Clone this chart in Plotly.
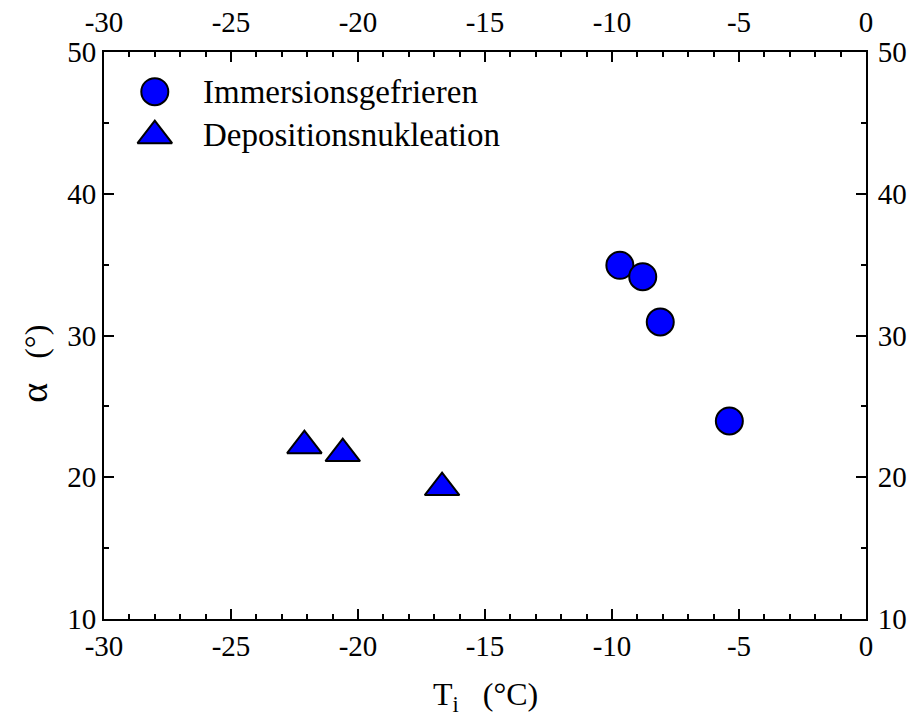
import plotly.graph_objects as go

# Contact angle alpha versus nucleation temperature T_i
temp_immersion = [-9.69, -8.79, -8.10, -5.38]
alpha_immersion = [34.95, 34.15, 30.95, 23.97]

temp_deposition = [-22.11, -20.60, -16.69]
alpha_deposition = [22.23, 21.67, 19.27]

series_names = ["Immersionsgefrieren", "Depositionsnukleation"]
x_tick_values = [-30, -25, -20, -15, -10, -5, 0]
x_tick_labels = ["-30", "-25", "-20", "-15", "-10", "-5", "0"]
y_tick_values = [10, 20, 30, 40, 50]
y_tick_labels = ["10", "20", "30", "40", "50"]
x_range = [-30, 0]
y_range = [10, 50]

FONT = "Liberation Serif"
FILL = "#0000FF"
TICK_SIZE = 29
TEXT_SIZE = 32

circle_marker = dict(symbol="circle", size=27, color=FILL,
                     line=dict(color="black", width=2))
triangle_marker = dict(symbol="triangle-up", size=30, color=FILL,
                       line=dict(color="black", width=2))

fig = go.Figure()
fig.add_trace(go.Scatter(x=temp_immersion, y=alpha_immersion, mode="markers",
                         marker=circle_marker, name=series_names[0],
                         showlegend=False))
fig.add_trace(go.Scatter(x=temp_deposition, y=alpha_deposition, mode="markers",
                         marker=triangle_marker, name=series_names[1],
                         showlegend=False))

# empty trace so the mirrored top/right axes are drawn with labels
fig.add_trace(go.Scatter(x=[None], y=[None], xaxis="x2", yaxis="y2",
                         showlegend=False, hoverinfo="skip"))

# hand-drawn legend in the upper-left corner
legend_x = -28.0
legend_text_x = -26.2
legend_rows = [47.2, 44.2]
fig.add_trace(go.Scatter(x=[legend_x], y=[legend_rows[0]], mode="markers",
                         marker=circle_marker, showlegend=False, hoverinfo="skip"))
fig.add_trace(go.Scatter(x=[legend_x], y=[legend_rows[1] - 0.1], mode="markers",
                         marker=triangle_marker, showlegend=False, hoverinfo="skip"))
for name, row in zip(series_names, legend_rows):
    fig.add_annotation(x=legend_text_x, y=row - 0.05, xref="x", yref="y",
                       text=name, showarrow=False, xanchor="left",
                       yanchor="middle",
                       font=dict(family=FONT, size=TEXT_SIZE + 1, color="black"))

axis_common = dict(
    showline=True, linecolor="black", linewidth=2,
    ticks="inside", ticklen=10, tickwidth=2, tickcolor="black",
    showgrid=False, zeroline=False, automargin=False,
    tickfont=dict(family=FONT, size=TICK_SIZE, color="black"),
)

x_axis = dict(axis_common, range=x_range, tickmode="array",
              tickvals=x_tick_values, ticktext=x_tick_labels,
              minor=dict(tickmode="linear", tick0=-30, dtick=1, ticks="inside",
                         ticklen=5, tickwidth=2, tickcolor="black",
                         showgrid=False))
y_axis = dict(axis_common, range=y_range, tickmode="array",
              tickvals=y_tick_values, ticktext=y_tick_labels,
              minor=dict(tickmode="linear", tick0=10, dtick=5, ticks="inside",
                         ticklen=5, tickwidth=2, tickcolor="black",
                         showgrid=False))

fig.update_layout(
    width=911, height=725,
    margin=dict(l=104, r=45, t=52, b=106),
    paper_bgcolor="white", plot_bgcolor="white",
    xaxis=dict(x_axis, side="bottom", anchor="y"),
    xaxis2=dict(x_axis, side="top", overlaying="x", anchor="y",
                ticklabelstandoff=6),
    yaxis=dict(y_axis, side="left", anchor="x"),
    yaxis2=dict(y_axis, side="right", overlaying="y", anchor="x",
                ticklabelstandoff=4),
    showlegend=False,
)

# axis titles
fig.add_annotation(x=0.5, y=-0.137, xref="paper", yref="paper",
                   text="T<sub>i</sub>   (°C)", showarrow=False,
                   xanchor="center", yanchor="middle",
                   font=dict(family=FONT, size=TEXT_SIZE, color="black"))
fig.add_annotation(x=-0.092, y=0.45, xref="paper", yref="paper",
                   text="<span style='font-size:38px'>α</span>   (°)",
                   showarrow=False, textangle=-90,
                   xanchor="center", yanchor="middle",
                   font=dict(family=FONT, size=TEXT_SIZE, color="black"))

fig.write_html("out.html")
